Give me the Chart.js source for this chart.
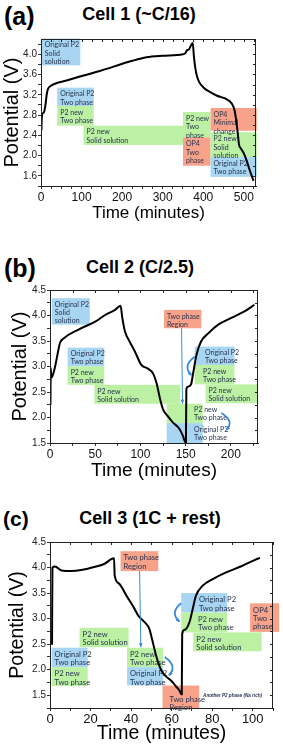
<!DOCTYPE html>
<html>
<head>
<meta charset="utf-8">
<script src="https://cdn.jsdelivr.net/npm/chart.js@4.4.0/dist/chart.umd.min.js"></script>
<style>
  body { margin: 0; width: 283px; height: 746px; background: #fff; position: relative; overflow: hidden; font-family: "Liberation Sans", Arial, sans-serif; }
  .tag { position: absolute; font-weight: bold; line-height: 1; color: #000; }
  .ttl { position: absolute; font-weight: bold; font-size: 18px; line-height: 18px; transform: translateX(-50%); white-space: nowrap; color: #000; }
  canvas { position: absolute; left: 0; }
</style>
</head>
<body>
<div class="tag" style="left:4px;top:4px;font-size:25px">(a)</div>
<div class="ttl" style="left:139px;top:5px">Cell 1 (~C/16)</div>
<canvas id="cellA" width="283" height="200" style="top:30px"></canvas>

<div class="tag" style="left:4px;top:256px;font-size:25px">(b)</div>
<div class="ttl" style="left:140px;top:258px">Cell 2 (C/2.5)</div>
<canvas id="cellB" width="283" height="204" style="top:280px"></canvas>

<div class="tag" style="left:3px;top:508px;font-size:21px">(c)</div>
<div class="ttl" style="left:150px;top:509px">Cell 3 (1C + rest)</div>
<canvas id="cellC" width="283" height="214" style="top:532px"></canvas>

<script>
// ---- Cell 1 (~C/16) ----
const timeA = [1, 1.5, 3, 7, 11, 14, 17, 25, 63, 145, 225, 260, 300, 350, 356, 360, 364, 374,
  377, 380, 384, 390, 401, 415, 434, 458, 470, 477, 481, 485, 488, 492, 499, 507, 515, 524];
const voltA = [2.50, 2.65, 2.82, 2.85, 3.00, 3.20, 3.31, 3.38, 3.48, 3.67, 3.87, 3.94, 3.97, 4.00, 4.02, 4.08, 4.09, 4.22,
  3.95, 3.75, 3.58, 3.45, 3.34, 3.26, 3.18, 3.11, 3.03, 2.90, 2.70, 2.45, 2.22, 2.15, 2.06, 1.90, 1.70, 1.50];
const xTicksA = [0, 25, 50, 75, 100, 125, 150, 175, 200, 225, 250, 275, 300, 325, 350, 375, 400, 425, 450, 475, 500, 525];
const xLabelsA = [0, 100, 200, 300, 400, 500];
const yTicksA = [1.4, 1.6, 1.8, 2.0, 2.2, 2.4, 2.6, 2.8, 3.0, 3.2, 3.4, 3.6, 3.8, 4.0, 4.2];
const yLabelsA = [1.6, 2.0, 2.4, 2.8, 3.2, 3.6, 4.0];
const boxesA = [
  { kind: 'orig', x0: 2, x1: 97, y0: 3.78, y1: 4.31, text: ['Original P2', 'Solid', 'solution'] },
  { kind: 'orig', x0: 40, x1: 130, y0: 2.98, y1: 3.34, text: ['Original P2', 'Two phase'] },
  { kind: 'newP2', x0: 40, x1: 130, y0: 2.59, y1: 2.98, text: ['P2 new', 'Two phase'] },
  { kind: 'newP2', x0: 105, x1: 350, y0: 2.21, y1: 2.59, text: ['P2 new', 'Solid solution'] },
  { kind: 'newP2', x0: 350, x1: 418, y0: 2.36, y1: 2.86, text: ['P2 new', 'Two', 'phase'] },
  { kind: 'op4', x0: 350, x1: 418, y0: 1.80, y1: 2.36, text: ['OP4', 'Two', 'phase'] },
  { kind: 'op4', x0: 418, x1: 532, y0: 2.49, y1: 2.94, text: ['OP4', 'Minimal', 'change'] },
  { kind: 'newP2', x0: 418, x1: 532, y0: 1.97, y1: 2.46, text: ['P2 new', 'Solid', 'solution'] },
  { kind: 'orig', x0: 418, x1: 532, y0: 1.58, y1: 1.97, text: ['Original P2', 'Two phase'] }
];

// ---- Cell 2 (C/2.5) ----
const timeB = [0.5, 0.8, 1.5, 5, 9, 11, 15, 31, 50, 61, 72, 78,
  80, 83, 88, 94, 101, 108, 114, 118, 121.5, 125, 130, 136, 143, 147, 149.5,
  150.3, 150.8, 153, 156, 158, 162, 167, 175, 186, 200, 215, 226];
const voltB = [2.25, 2.97, 2.78, 2.95, 3.30, 3.46, 3.55, 3.72, 3.88, 4.01, 4.11, 4.19,
  3.95, 3.68, 3.49, 3.29, 3.03, 2.96, 2.86, 2.66, 2.38, 2.16, 2.03, 1.90, 1.78, 1.64, 1.52,
  1.52, 2.56, 2.61, 2.65, 2.84, 3.23, 3.49, 3.65, 3.82, 3.95, 4.08, 4.21];
const xTicksB = [0, 25, 50, 75, 100, 125, 150, 175, 200, 225];
const xLabelsB = [0, 50, 100, 150, 200];
const yTicksB = [1.5, 1.75, 2.0, 2.25, 2.5, 2.75, 3.0, 3.25, 3.5, 3.75, 4.0, 4.25, 4.5];
const yLabelsB = [1.5, 2.0, 2.5, 3.0, 3.5, 4.0, 4.5];
const boxesB = [
  { kind: 'orig', x0: 2, x1: 44, y0: 3.82, y1: 4.34, text: ['Original P2', 'Solid', 'solution'] },
  { kind: 'orig', x0: 19.5, x1: 60, y0: 3.0, y1: 3.37, text: ['Original P2', 'Two phase'] },
  { kind: 'newP2', x0: 19.5, x1: 60, y0: 2.64, y1: 3.0, text: ['P2 new', 'Two phase'] },
  { kind: 'newP2', x0: 49, x1: 144, y0: 2.27, y1: 2.64, text: ['P2 new', 'Solid solution'] },
  { kind: 'op4', x0: 126, x1: 167.4, y0: 3.75, y1: 4.11, text: ['Two phase', 'Region'] },
  { kind: 'newP2', x0: 129, x1: 169, y0: 1.89, y1: 2.27, tx: 156, text: ['P2 new', 'Two phase'] },
  { kind: 'orig', x0: 129, x1: 169, y0: 1.5, y1: 1.89, tx: 156, text: ['Original P2', 'Two phase'] },
  { kind: 'orig', x0: 160, x1: 204, y0: 3.03, y1: 3.39, tx: 168, text: ['Original P2', 'Two phase'] },
  { kind: 'newP2', x0: 160, x1: 204, y0: 2.65, y1: 3.03, tx: 166, text: ['P2 new', 'Two phase'] },
  { kind: 'newP2', x0: 172, x1: 230, y0: 2.28, y1: 2.65, text: ['P2 new', 'Solid solution'] }
];
const arrowsB = [
  { x0: 145.5, y0: 3.75, x1: 146.5, y1: 2.28, bend: 0 },
  { x0: 160, y0: 3.19, x1: 156.4, y1: 2.83, bend: -1 },
  { x0: 189.5, y0: 2.09, x1: 195, y1: 1.76, bend: 1 }
];

// ---- Cell 3 (1C + rest) ----
const timeC = [1.0, 1.2, 2.4, 5.7, 10.5, 15.4, 21.8, 26.7, 31.6,
  31.9, 33.9, 38, 41.3, 43.7, 46.9, 49, 50.2, 52.6, 55, 57.5, 59.9, 62, 63.9, 64.7,
  65.0, 65.2, 66.4, 68.8, 70.4, 72, 75.2, 80.1, 86.6, 94.7, 101.1, 103.6];
const voltC = [2.49, 4.00, 4.02, 3.94, 3.93, 3.95, 4.01, 4.07, 4.18,
  3.85, 3.69, 3.43, 3.22, 3.05, 2.92, 2.80, 2.62, 2.24, 1.98, 1.86, 1.78, 1.68, 1.59, 1.52,
  1.52, 2.70, 2.78, 2.93, 3.19, 3.45, 3.64, 3.77, 3.90, 4.03, 4.15, 4.19];
const xTicksC = [0, 10, 20, 30, 40, 50, 60, 70, 80, 90, 100, 110];
const xLabelsC = [0, 20, 40, 60, 80, 100];
const yTicksC = [1.25, 1.5, 1.75, 2.0, 2.25, 2.5, 2.75, 3.0, 3.25, 3.5, 3.75, 4.0, 4.25, 4.5];
const yLabelsC = [1.5, 2.0, 2.5, 3.0, 3.5, 4.0, 4.5];
const boxesC = [
  { kind: 'op4', x0: 34.8, x1: 53.4, y0: 3.93, y1: 4.32, text: ['Two phase', 'Region'] },
  { kind: 'orig', x0: 64.7, x1: 87.4, y0: 3.12, y1: 3.50, tx: 72, text: ['Original P2', 'Two phase'] },
  { kind: 'newP2', x0: 64.7, x1: 87.4, y0: 2.73, y1: 3.12, tx: 71.5, text: ['P2 new', 'Two phase'] },
  { kind: 'newP2', x0: 70.7, x1: 104.4, y0: 2.36, y1: 2.73, text: ['P2 new', 'Solid solution'] },
  { kind: 'op4', x0: 98.7, x1: 113, y0: 2.74, y1: 3.30, text: ['OP4', 'Two', 'phase'] },
  { kind: 'newP2', x0: 14.6, x1: 38.8, y0: 2.44, y1: 2.82, text: ['P2 new', 'Solid solution'] },
  { kind: 'orig', x0: 0.8, x1: 18.6, y0: 2.05, y1: 2.43, text: ['Original P2', 'Two phase'] },
  { kind: 'newP2', x0: 0.8, x1: 18.6, y0: 1.68, y1: 2.05, text: ['P2 new', 'Two phase'] },
  { kind: 'newP2', x0: 38, x1: 55.8, y0: 2.05, y1: 2.43, text: ['P2 new', 'Two phase'] },
  { kind: 'orig', x0: 38, x1: 55.8, y0: 1.69, y1: 2.05, text: ['Original P2', 'Two phase'] },
  { kind: 'op4', x0: 55.5, x1: 73.6, y0: 1.25, y1: 1.69, tx: 57.5, ty: 1.55, text: ['Two phase', 'Region'] }
];
const arrowsC = [
  { x0: 44.2, y0: 3.93, x1: 44.8, y1: 2.45, bend: 0 },
  { x0: 64.7, y0: 3.30, x1: 63.9, y1: 2.94, bend: -1 },
  { x0: 56.6, y0: 2.25, x1: 58.7, y1: 1.89, bend: 1 }
];
const notesC = [{ x: 75.5, y: 1.49, text: 'Another P2 phase (Na rich)' }];

const fills = { orig: '#a8d6f2', newP2: '#bcf1a4', op4: '#f8a28a' };

Chart.defaults.font.family = '"Liberation Sans", Arial, sans-serif';

const phasePlugin = {
  id: 'phases',
  beforeDatasetsDraw(chart, args, opts) {
    const { ctx, scales: { x, y } } = chart;
    const boxes = opts.boxes || [];
    ctx.save();
    boxes.forEach(b => {
      const l = x.getPixelForValue(b.x0), r = x.getPixelForValue(b.x1);
      const t = y.getPixelForValue(b.y1), bt = y.getPixelForValue(b.y0);
      ctx.fillStyle = fills[b.kind];
      ctx.fillRect(l, t, r - l, bt - t);
    });
    ctx.fillStyle = '#27324d';
    ctx.font = opts.fontSize + 'px Lato, "Open Sans", sans-serif';
    ctx.textBaseline = 'top';
    ctx.textAlign = 'left';
    boxes.forEach(b => {
      const tx = x.getPixelForValue(b.tx !== undefined ? b.tx : b.x0) + 3;
      const ty = y.getPixelForValue(b.ty !== undefined ? b.ty : b.y1) + 3;
      b.text.forEach((s, i) => ctx.fillText(s, tx, ty + i * opts.lineGap));
    });
    (opts.notes || []).forEach(n => {
      ctx.font = 'italic bold 4.6px "Liberation Sans", Arial, sans-serif';
      ctx.textBaseline = 'middle';
      ctx.fillText(n.text, x.getPixelForValue(n.x), y.getPixelForValue(n.y));
    });
    ctx.restore();
  },
  afterDatasetsDraw(chart, args, opts) {
    const { ctx, chartArea: a, scales: { x, y } } = chart;
    ctx.save();
    ctx.strokeStyle = '#3a8ad6';
    ctx.fillStyle = '#3a8ad6';
    (opts.arrows || []).forEach(ar => {
      const x0 = x.getPixelForValue(ar.x0), y0 = y.getPixelForValue(ar.y0);
      const x1 = x.getPixelForValue(ar.x1), y1 = y.getPixelForValue(ar.y1);
      ctx.beginPath();
      ctx.moveTo(x0, y0);
      let ang;
      if (ar.bend === 0) {
        ctx.lineWidth = 1;
        ctx.lineTo(x1, y1);
        ang = Math.atan2(y1 - y0, x1 - x0);
      } else {
        ctx.lineWidth = 1.8;
        const cx = (x0 + x1) / 2 + ar.bend * 11, cy = (y0 + y1) / 2;
        ctx.quadraticCurveTo(cx, cy, x1, y1);
        ang = Math.atan2(y1 - cy, x1 - cx);
      }
      ctx.stroke();
      const h = 4;
      ctx.beginPath();
      ctx.moveTo(x1 + Math.cos(ang) * 1, y1 + Math.sin(ang) * 1);
      ctx.lineTo(x1 - Math.cos(ang - 0.45) * h, y1 - Math.sin(ang - 0.45) * h);
      ctx.lineTo(x1 - Math.cos(ang + 0.45) * h, y1 - Math.sin(ang + 0.45) * h);
      ctx.closePath();
      ctx.fill();
    });
    // frame with inward ticks on top and right
    ctx.strokeStyle = '#222';
    ctx.lineWidth = 1;
    ctx.strokeRect(a.left + 0.5, a.top + 0.5, a.right - a.left - 1, a.bottom - a.top);
    ctx.beginPath();
    x.ticks.forEach(t => {
      const px = Math.round(x.getPixelForValue(t.value)) + 0.5;
      ctx.moveTo(px, a.top); ctx.lineTo(px, a.top + 3);
    });
    y.ticks.forEach(t => {
      const py = Math.round(y.getPixelForValue(t.value)) + 0.5;
      ctx.moveTo(a.right, py); ctx.lineTo(a.right - 3, py);
    });
    ctx.stroke();
    ctx.restore();
  }
};

const near = (list, v) => list.some(l => Math.abs(l - v) < 1e-6);

function buildCell(id, o) {
  return new Chart(document.getElementById(id), {
    type: 'line',
    data: {
      datasets: [{
        data: o.time.map((t, i) => ({ x: t, y: o.volt[i] })),
        borderColor: '#000',
        borderWidth: 2,
        pointRadius: 0,
        fill: false,
        cubicInterpolationMode: 'monotone'
      }]
    },
    options: {
      responsive: false,
      animation: false,
      devicePixelRatio: 1,
      layout: { padding: { top: o.padTop, right: o.padRight, left: 0, bottom: 0 } },
      plugins: {
        legend: { display: false },
        tooltip: { enabled: false },
        phases: { boxes: o.boxes, arrows: o.arrows, notes: o.notes, fontSize: o.boxFont, lineGap: o.lineGap }
      },
      scales: {
        x: {
          type: 'linear', min: o.xMin, max: o.xMax,
          afterBuildTicks: s => { s.ticks = o.xTicks.map(v => ({ value: v })); },
          afterFit: s => { s.height = o.xH; },
          ticks: {
            autoSkip: false, maxRotation: 0, padding: 1, color: '#111',
            font: { size: o.xTickSize },
            callback: v => near(o.xLabels, v) ? String(v) : ''
          },
          grid: { drawOnChartArea: false, tickLength: 3, color: '#333' },
          border: { color: '#222' },
          title: { display: true, text: 'Time (minutes)', color: '#000', font: { size: o.xTitleSize }, padding: { top: 0, bottom: o.xTitlePad } }
        },
        y: {
          type: 'linear', min: o.yMin, max: o.yMax,
          afterBuildTicks: s => { s.ticks = o.yTicks.map(v => ({ value: v })); },
          afterFit: s => { s.width = o.yW; },
          ticks: {
            autoSkip: false, padding: 1, color: '#222',
            font: { size: o.yTickSize },
            callback: v => near(o.yLabels, v) ? v.toFixed(1) : ''
          },
          grid: { drawOnChartArea: false, tickLength: 3, color: '#333' },
          border: { color: '#222' },
          title: { display: true, text: 'Potential (V)', color: '#000', font: { size: o.yTitleSize }, padding: { top: o.yTitlePad, bottom: 0 } }
        }
      }
    },
    plugins: [phasePlugin]
  });
}

buildCell('cellA', {
  time: timeA, volt: voltA, boxes: boxesA, arrows: [], notes: [],
  xMin: 0, xMax: 530, yMin: 1.4, yMax: 4.3,
  xTicks: xTicksA, xLabels: xLabelsA, yTicks: yTicksA, yLabels: yLabelsA,
  padTop: 9, padRight: 27, yW: 41, xH: 44,
  xTickSize: 12, yTickSize: 10, xTitleSize: 17, yTitleSize: 20, xTitlePad: 6, yTitlePad: 0,
  boxFont: 7, lineGap: 8.6
});

buildCell('cellB', {
  time: timeB, volt: voltB, boxes: boxesB, arrows: arrowsB, notes: [],
  xMin: 0, xMax: 230, yMin: 1.5, yMax: 4.5,
  xTicks: xTicksB, xLabels: xLabelsB, yTicks: yTicksB, yLabels: yLabelsB,
  padTop: 10, padRight: 25, yW: 50, xH: 41,
  xTickSize: 12, yTickSize: 10, xTitleSize: 19, yTitleSize: 20, xTitlePad: 2, yTitlePad: 8,
  boxFont: 7, lineGap: 8
});

buildCell('cellC', {
  time: timeC, volt: voltC, boxes: boxesC, arrows: arrowsC, notes: notesC,
  xMin: 0, xMax: 110, yMin: 1.25, yMax: 4.5,
  xTicks: xTicksC, xLabels: xLabelsC, yTicks: yTicksC, yLabels: yLabelsC,
  padTop: 10, padRight: 10, yW: 50, xH: 38,
  xTickSize: 13, yTickSize: 10, xTitleSize: 19.5, yTitleSize: 19.5, xTitlePad: 1, yTitlePad: 6,
  boxFont: 7.6, lineGap: 8.4
});
</script>
</body>
</html>
